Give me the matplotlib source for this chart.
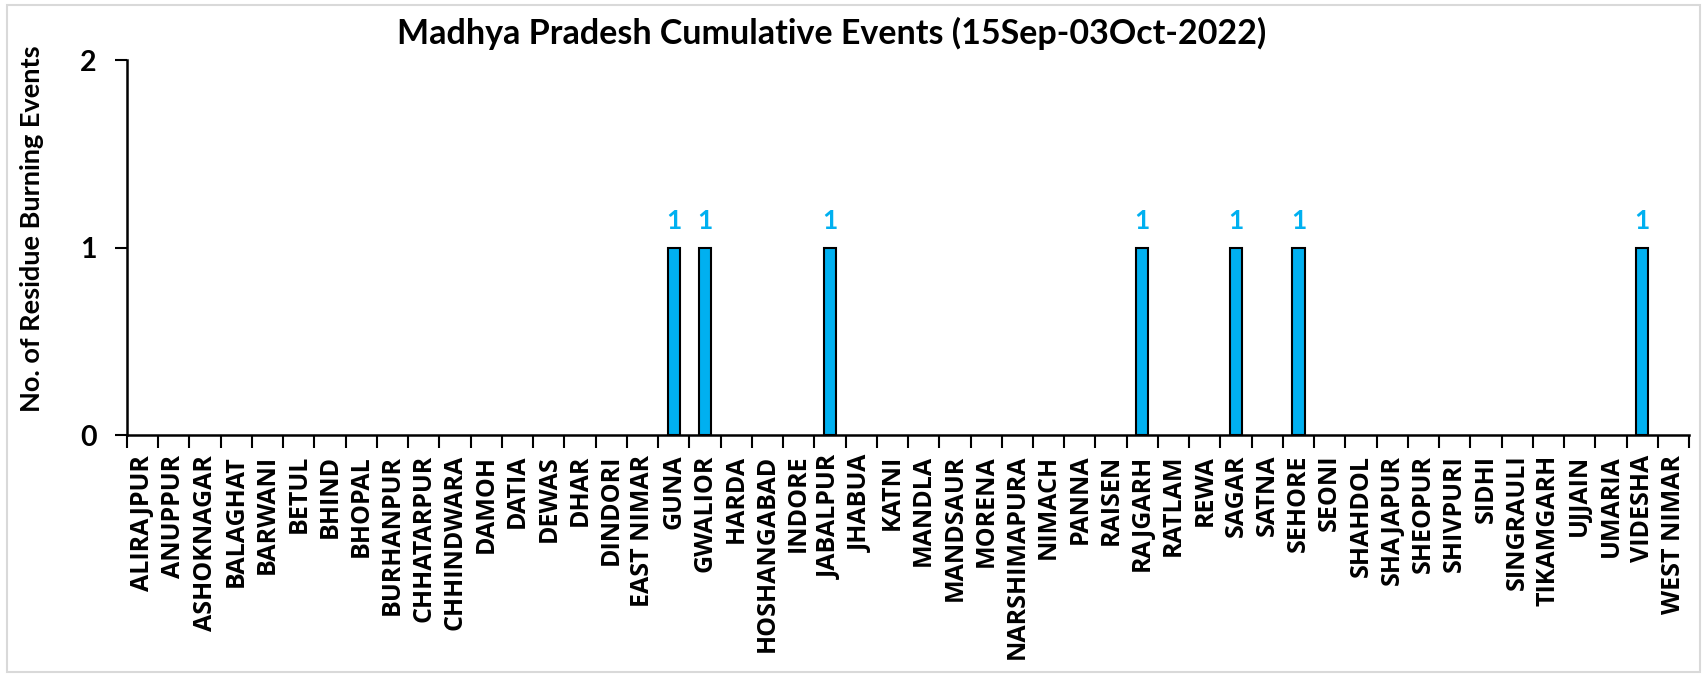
import matplotlib.pyplot as plt
import numpy as np
from matplotlib.patches import Rectangle

districts = ["ALIRAJPUR", "ANUPPUR", "ASHOKNAGAR", "BALAGHAT", "BARWANI", "BETUL",
             "BHIND", "BHOPAL", "BURHANPUR", "CHHATARPUR", "CHHINDWARA", "DAMOH",
             "DATIA", "DEWAS", "DHAR", "DINDORI", "EAST NIMAR", "GUNA", "GWALIOR",
             "HARDA", "HOSHANGABAD", "INDORE", "JABALPUR", "JHABUA", "KATNI",
             "MANDLA", "MANDSAUR", "MORENA", "NARSHIMAPURA", "NIMACH", "PANNA",
             "RAISEN", "RAJGARH", "RATLAM", "REWA", "SAGAR", "SATNA", "SEHORE",
             "SEONI", "SHAHDOL", "SHAJAPUR", "SHEOPUR", "SHIVPURI", "SIDHI",
             "SINGRAULI", "TIKAMGARH", "UJJAIN", "UMARIA", "VIDESHA", "WEST NIMAR"]
events = [0, 0, 0, 0, 0, 0, 0, 0, 0, 0, 0, 0, 0, 0, 0, 0, 0, 1, 1, 0, 0, 0, 1, 0, 0,
          0, 0, 0, 0, 0, 0, 0, 1, 0, 0, 1, 0, 1, 0, 0, 0, 0, 0, 0, 0, 0, 0, 0, 1, 0]

blue = "#00B0F0"
tfont = "Lato"          # stands in for Calibri
xfont = "Open Sans"

fig = plt.figure(figsize=(17.07, 6.77), dpi=100)
ax = fig.add_axes([0.0744, 0.357, 0.9151, 0.554])

x = np.arange(len(districts))
# zero-height bars get no outline, like in the excel chart
lw = [1.5 if v > 0 else 0 for v in events]
ax.bar(x, events, width=0.39, color=blue, edgecolor="black", linewidth=lw, zorder=3)

for xi, v in zip(x, events):
    if v > 0:
        ax.annotate(str(v), (xi, v), xytext=(0, 11), textcoords="offset points",
                    ha="center", va="bottom", color=blue, fontsize=19,
                    fontweight="bold", family=tfont)

ax.set_xlim(-0.5, len(districts) - 0.5)
ax.set_ylim(0, 2)
ax.set_yticks([0, 1, 2])
ax.set_yticklabels(["0", "1", "2"], fontsize=20.5, fontweight="bold", family=tfont)

ax.set_xticks(x)
ax.set_xticklabels(districts, rotation=90, fontsize=18, fontweight="bold", family=xfont)
ax.set_xticks(np.arange(-0.5, len(districts), 1), minor=True)
ax.tick_params(axis="x", which="major", length=0, pad=14)
ax.tick_params(axis="x", which="minor", length=9, width=1.5, direction="out")
ax.tick_params(axis="y", length=9, width=1.5, direction="out", pad=13)

for s in ["top", "right"]:
    ax.spines[s].set_visible(False)
for s in ["left", "bottom"]:
    ax.spines[s].set_linewidth(1.8)

fig.text(0.0187, 0.662, "No. of Residue Burning Events", rotation=90, ha="center",
         va="center", fontsize=19.5, fontweight="bold", family=tfont)
fig.text(0.487, 0.951, "Madhya Pradesh Cumulative Events (15Sep-03Oct-2022)",
         ha="center", va="center", fontsize=24.5, fontweight="bold", family=tfont)

fig.patches.append(Rectangle((0.004, 0.007), 0.992, 0.986, transform=fig.transFigure,
                             fill=False, edgecolor="#d9d9d9", linewidth=1.5))

fig.savefig("out.png", dpi=100)
